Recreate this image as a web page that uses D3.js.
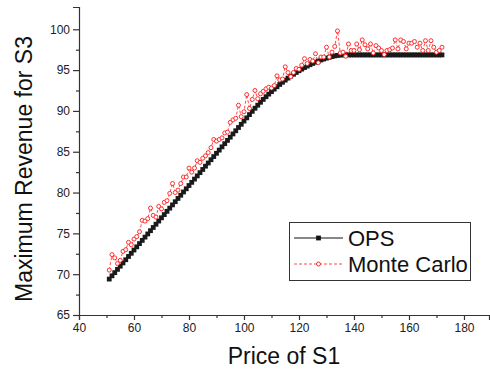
<!DOCTYPE html>
<html>
<head>
<meta charset="utf-8">
<script src="https://cdn.jsdelivr.net/npm/d3@7"></script>
<style>
body { margin: 0; background: #fff; }
svg { display: block; font-family: "Liberation Sans", Arial, sans-serif; }
</style>
</head>
<body>
<div id="vis"></div>
<script>
// price of S1, one run per unit step
const price = d3.range(51, 173);

// OPS result (black squares)
const opsRevenue = [
  69.40, 69.80, 70.19, 70.59, 70.98, 71.38, 71.77, 72.17, 72.56, 72.96,
  73.35, 73.75, 74.14, 74.54, 74.93, 75.33, 75.72, 76.12, 76.51, 76.91,
  77.30, 77.70, 78.09, 78.49, 78.88, 79.28, 79.67, 80.07, 80.46, 80.86,
  81.25, 81.65, 82.04, 82.44, 82.83, 83.23, 83.62, 84.02, 84.41, 84.81,
  85.20, 85.60, 85.99, 86.39, 86.78, 87.18, 87.57, 87.97, 88.36, 88.76,
  89.15, 89.55, 89.95, 90.33, 90.70, 91.06, 91.41, 91.74, 92.06, 92.37,
  92.67, 92.96, 93.24, 93.51, 93.77, 94.02, 94.26, 94.49, 94.71, 94.92,
  95.12, 95.31, 95.49, 95.66, 95.82, 95.97, 96.11, 96.24, 96.36, 96.47,
  96.57, 96.66, 96.74, 96.80, 96.84, 96.86, 96.86, 96.86, 96.86, 96.86,
  96.86, 96.86, 96.86, 96.86, 96.86, 96.86, 96.86, 96.86, 96.86, 96.86,
  96.86, 96.86, 96.86, 96.86, 96.86, 96.86, 96.86, 96.86, 96.86, 96.86,
  96.86, 96.86, 96.86, 96.86, 96.86, 96.86, 96.86, 96.86, 96.86, 96.86,
  96.86, 96.86
];

// Monte Carlo estimate (red open circles)
const mcRevenue = [
  70.5, 72.4, 72.0, 71.3, 71.7, 72.8, 73.0, 73.9, 73.6, 74.3,
  74.6, 75.2, 76.6, 76.5, 76.8, 78.1, 77.2, 77.0, 78.3, 78.0,
  78.8, 79.0, 79.9, 81.1, 80.0, 80.3, 81.1, 81.9, 81.9, 83.0,
  82.5, 83.0, 83.9, 83.7, 84.2, 84.5, 84.9, 85.5, 86.5, 86.3,
  86.5, 86.7, 87.3, 87.4, 88.6, 88.9, 89.1, 90.7, 89.3, 89.9,
  92.0, 90.3, 91.4, 92.5, 91.5, 92.1, 92.4, 92.7, 92.9, 92.8,
  93.1, 94.3, 93.8, 93.9, 95.4, 94.7, 94.2, 94.7, 95.2, 95.1,
  95.6, 96.4, 95.8, 96.3, 96.1, 97.0, 95.9, 96.6, 96.6, 97.8,
  96.6, 97.2, 97.9, 99.8, 97.1, 97.2, 96.7, 98.2, 97.4, 97.4,
  98.2, 97.5, 98.7, 98.1, 97.6, 98.2, 97.1, 98.0, 97.7, 97.4,
  96.9, 97.4, 97.5, 97.7, 98.7, 97.6, 98.7, 98.5, 97.6, 98.3,
  98.3, 98.5, 97.8, 98.3, 97.4, 98.6, 97.4, 98.6, 97.8, 97.2,
  97.4, 97.8
];

const xTicks = [40, 60, 80, 100, 120, 140, 160, 180];
const xMinor = [50, 70, 90, 110, 130, 150, 170];
const yTicks = [65, 70, 75, 80, 85, 90, 95, 100];
const yMinor = [67.5, 72.5, 77.5, 82.5, 87.5, 92.5, 97.5];
const seriesNames = ['OPS', 'Monte Carlo'];

const width = 490, height = 373;
const plotLeft = 79, plotRight = 489, plotTop = 7, plotBottom = 315;
const axisColor = '#333';
const red = '#ff1a1a';

const svg = d3.select('#vis')
.append('svg')
.attr('width', width)
.attr('height', height);

const x = d3.scaleLinear().domain([40, 189.1]).range([plotLeft, plotRight]);
const y = d3.scaleLinear().domain([65, 102.73]).range([plotBottom, plotTop]);

// axes
svg.append('g')
.attr('transform', `translate(0,${plotBottom})`)
.call(d3.axisBottom(x).tickValues(xTicks).tickSize(5).tickPadding(3));
svg.append('g')
.attr('transform', `translate(0,${plotBottom})`)
.call(d3.axisBottom(x).tickValues(xMinor).tickSize(3).tickFormat(''))
.select('.domain').remove();

svg.append('g')
.attr('transform', `translate(${plotLeft},0)`)
.call(d3.axisLeft(y).tickValues(yTicks).tickSize(6).tickPadding(3));
svg.append('g')
.attr('transform', `translate(${plotLeft},0)`)
.call(d3.axisLeft(y).tickValues(yMinor).tickSize(3).tickFormat(''))
.select('.domain').remove();

svg.selectAll('.domain').attr('stroke', axisColor).attr('stroke-width', 1.2);
svg.selectAll('.tick line').attr('stroke', axisColor).attr('stroke-width', 1.2);
svg.selectAll('.tick text')
.attr('fill', '#222')
.style('font-size', '12px')
.style('font-family', '"Liberation Sans", Arial, sans-serif');

// axis titles
svg.append('text')
.attr('x', (plotLeft + plotRight) / 2)
.attr('y', 364)
.attr('text-anchor', 'middle')
.attr('fill', '#111')
.style('font-size', '23px')
.text('Price of S1');

svg.append('text')
.attr('transform', 'translate(32,169) rotate(-90)')
.attr('text-anchor', 'middle')
.attr('fill', '#111')
.style('font-size', '23px')
.text('Maximum Revenue for S3');

const ops = price.map((p, i) => ({p: p, v: opsRevenue[i]}));
const mc = price.map((p, i) => ({p: p, v: mcRevenue[i]}));

const line = d3.line().x(d => x(d.p)).y(d => y(d.v));

// OPS series
svg.append('path')
.datum(ops)
.attr('d', line)
.attr('fill', 'none')
.attr('stroke', '#111')
.attr('stroke-width', 1);

svg.selectAll('.ops-pt')
.data(ops)
.enter()
.append('rect')
.attr('class', 'ops-pt')
.attr('x', d => x(d.p) - 2.4)
.attr('y', d => y(d.v) - 2.4)
.attr('width', 4.8)
.attr('height', 4.8)
.attr('fill', '#1a1a1a');

// Monte Carlo series
svg.append('path')
.datum(mc)
.attr('d', line)
.attr('fill', 'none')
.attr('stroke', red)
.attr('stroke-width', 0.8)
.attr('stroke-dasharray', '3,2');

svg.selectAll('.mc-pt')
.data(mc)
.enter()
.append('circle')
.attr('class', 'mc-pt')
.attr('cx', d => x(d.p))
.attr('cy', d => y(d.v))
.attr('r', 2)
.attr('fill', '#fff')
.attr('stroke', red)
.attr('stroke-width', 0.9);

// legend
const legend = svg.append('g');
legend.append('rect')
.attr('x', 289.5)
.attr('y', 222.5)
.attr('width', 181)
.attr('height', 58)
.attr('fill', '#fff')
.attr('stroke', '#333')
.attr('stroke-width', 1);

const legendRows = [238, 264];
legend.selectAll('.leg-line')
.data(seriesNames)
.enter()
.append('line')
.attr('x1', 294)
.attr('x2', 343)
.attr('y1', (d, i) => legendRows[i])
.attr('y2', (d, i) => legendRows[i])
.attr('stroke', (d, i) => i == 0 ? '#111' : red)
.attr('stroke-width', (d, i) => i == 0 ? 1 : 0.8)
.attr('stroke-dasharray', (d, i) => i == 0 ? null : '3,2');

legend.append('rect')
.attr('x', 318.5 - 2.4)
.attr('y', legendRows[0] - 2.4)
.attr('width', 4.8)
.attr('height', 4.8)
.attr('fill', '#111');

legend.append('circle')
.attr('cx', 318.5)
.attr('cy', legendRows[1])
.attr('r', 2)
.attr('fill', '#fff')
.attr('stroke', red)
.attr('stroke-width', 0.9);

legend.selectAll('.leg-text')
.data(seriesNames)
.enter()
.append('text')
.attr('x', 348)
.attr('y', (d, i) => legendRows[i] + 7.5)
.attr('fill', '#111')
.style('font-size', '22px')
.text(d => d);
</script>
</body>
</html>
